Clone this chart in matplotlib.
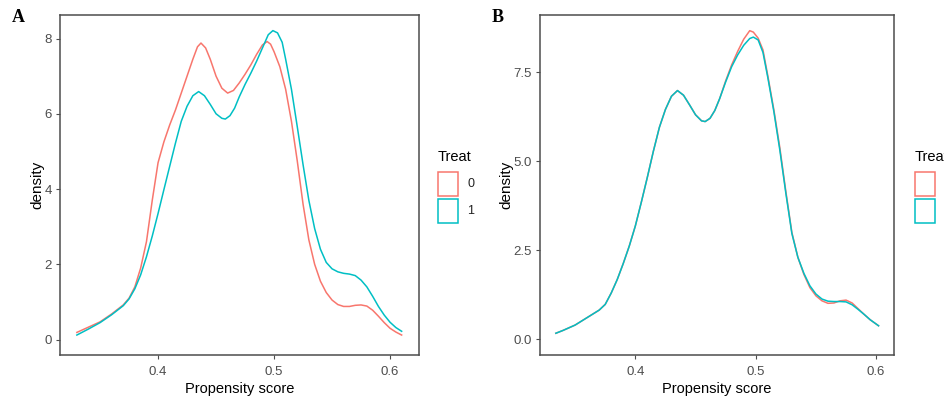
import matplotlib
matplotlib.use("Agg")
import matplotlib.pyplot as plt
from matplotlib.patches import Rectangle

plt.rcParams["font.family"] = ["Liberation Sans", "DejaVu Sans"]

RED = "#F8766D"
CYAN = "#00BFC4"

# ----------------------------
# DENSITY CURVES
# ----------------------------
a_x0 = [0.330, 0.340, 0.350, 0.360, 0.370, 0.375, 0.380, 0.385, 0.390, 0.395,
        0.400, 0.405, 0.410, 0.415, 0.420, 0.425, 0.430, 0.434, 0.437, 0.441,
        0.445, 0.450, 0.455, 0.460, 0.465, 0.470, 0.475, 0.480, 0.485, 0.490,
        0.494, 0.497, 0.500, 0.505, 0.510, 0.515, 0.520, 0.525, 0.530, 0.535,
        0.540, 0.545, 0.550, 0.555, 0.560, 0.565, 0.570, 0.575, 0.580, 0.585,
        0.590, 0.595, 0.600, 0.605, 0.610]
a_treat0 = [0.19, 0.33, 0.47, 0.68, 0.92, 1.10, 1.40, 1.90, 2.60, 3.70,
            4.70, 5.25, 5.70, 6.10, 6.55, 7.00, 7.45, 7.78, 7.88, 7.75,
            7.45, 7.00, 6.68, 6.55, 6.62, 6.82, 7.05, 7.30, 7.58, 7.83,
            7.92, 7.85, 7.65, 7.25, 6.65, 5.80, 4.75, 3.60, 2.65, 2.00,
            1.55, 1.25, 1.05, 0.93, 0.88, 0.88, 0.91, 0.92, 0.89, 0.78,
            0.62, 0.45, 0.30, 0.20, 0.12]

a_x1 = [0.330, 0.340, 0.350, 0.360, 0.370, 0.375, 0.380, 0.385, 0.390, 0.395,
        0.400, 0.405, 0.410, 0.415, 0.420, 0.425, 0.430, 0.435, 0.440, 0.445,
        0.450, 0.455, 0.458, 0.462, 0.466, 0.470, 0.475, 0.480, 0.485, 0.490,
        0.495, 0.499, 0.503, 0.507, 0.510, 0.515, 0.520, 0.525, 0.530, 0.535,
        0.540, 0.545, 0.550, 0.555, 0.560, 0.565, 0.570, 0.575, 0.580, 0.585,
        0.590, 0.595, 0.600, 0.605, 0.610]
a_treat1 = [0.12, 0.28, 0.45, 0.66, 0.90, 1.08, 1.35, 1.72, 2.20, 2.75,
            3.35, 3.98, 4.60, 5.22, 5.80, 6.20, 6.48, 6.59, 6.48, 6.25,
            6.00, 5.88, 5.86, 5.95, 6.15, 6.45, 6.78, 7.08, 7.40, 7.75,
            8.10, 8.21, 8.15, 7.90, 7.45, 6.65, 5.66, 4.65, 3.70, 2.95,
            2.40, 2.05, 1.88, 1.80, 1.76, 1.74, 1.70, 1.58, 1.40, 1.15,
            0.88, 0.65, 0.46, 0.32, 0.22]

b_x = [0.334, 0.340, 0.350, 0.360, 0.370, 0.375, 0.380, 0.385, 0.390, 0.395,
       0.400, 0.405, 0.410, 0.415, 0.420, 0.425, 0.430, 0.435, 0.440, 0.445,
       0.450, 0.455, 0.458, 0.462, 0.466, 0.470, 0.475, 0.480, 0.485, 0.490,
       0.495, 0.498, 0.502, 0.506, 0.510, 0.515, 0.520, 0.525, 0.530, 0.535,
       0.540, 0.545, 0.550, 0.555, 0.560, 0.565, 0.570, 0.575, 0.580, 0.585,
       0.590, 0.595, 0.602]
b_treat0 = [0.17, 0.25, 0.40, 0.61, 0.82, 0.98, 1.30, 1.68, 2.13, 2.62,
            3.18, 3.85, 4.55, 5.28, 5.95, 6.45, 6.82, 6.98, 6.85, 6.58,
            6.30, 6.13, 6.11, 6.20, 6.42, 6.75, 7.25, 7.70, 8.08, 8.42,
            8.66, 8.62, 8.45, 8.12, 7.40, 6.45, 5.38, 4.15, 3.00, 2.30,
            1.82, 1.45, 1.22, 1.08, 1.01, 1.02, 1.08, 1.10, 1.02, 0.86,
            0.70, 0.55, 0.38]
b_treat1 = [0.17, 0.25, 0.40, 0.61, 0.82, 0.98, 1.30, 1.68, 2.13, 2.62,
            3.18, 3.85, 4.55, 5.28, 5.95, 6.45, 6.82, 6.98, 6.85, 6.58,
            6.30, 6.13, 6.11, 6.20, 6.42, 6.75, 7.22, 7.65, 7.98, 8.25,
            8.44, 8.48, 8.40, 8.05, 7.35, 6.40, 5.31, 4.10, 2.97, 2.30,
            1.85, 1.50, 1.27, 1.13, 1.07, 1.06, 1.06, 1.05, 0.97, 0.84,
            0.70, 0.55, 0.38]

a_yticks = [0, 2, 4, 6, 8]
a_yticklabels = ["0", "2", "4", "6", "8"]
b_yticks = [0.0, 2.5, 5.0, 7.5]
b_yticklabels = ["0.0", "2.5", "5.0", "7.5"]
x_ticks = [0.4, 0.5, 0.6]
x_ticklabels = ["0.4", "0.5", "0.6"]
legend_labels = ["0", "1"]


def style_axes(ax, yticks, ylabels):
    for s in ax.spines.values():
        s.set_color("#4D4D4D")
        s.set_linewidth(1.1)
    ax.set_xticks(x_ticks)
    ax.set_xticklabels(x_ticklabels)
    ax.set_yticks(yticks)
    ax.set_yticklabels(ylabels)
    ax.tick_params(length=3, width=0.8, color="#4D4D4D", labelcolor="#4D4D4D",
                   labelsize=9.5, pad=3)
    ax.tick_params(axis="x", pad=5)
    ax.set_xlabel("Propensity score", fontsize=10.5, labelpad=3)
    ax.set_ylabel("density", fontsize=11, labelpad=0)


def draw_legend(fig, x0):
    W, H = 944.0, 399.0
    fig.text(x0 / W, 1 - 157 / H, "Treat", fontsize=10.5, va="center", ha="left")
    for i, (lab, col) in enumerate(zip(legend_labels, [RED, CYAN])):
        top = 172 + i * 27
        fig.patches.append(Rectangle((x0 / W, 1 - (top + 24) / H), 20 / W, 24 / H,
                                     transform=fig.transFigure, facecolor="white",
                                     edgecolor=col, linewidth=1.1))
        fig.text((x0 + 29) / W, 1 - (top + 12) / H, lab, fontsize=9,
                 color="#222222", va="center", ha="left")


fig = plt.figure(figsize=(9.44, 3.99), dpi=100)

axA = fig.add_axes([0.0636, 0.1103, 0.3803, 0.8521])
axA.plot(a_x0, a_treat0, color=RED, lw=1.1)
axA.plot(a_x1, a_treat1, color=CYAN, lw=1.1)
axA.set_xlim(0.3155, 0.625)
axA.set_ylim(-0.41, 8.625)
style_axes(axA, a_yticks, a_yticklabels)

axB = fig.add_axes([0.572, 0.1103, 0.375, 0.8521])
axB.plot(b_x, b_treat0, color=RED, lw=1.1)
axB.plot(b_x, b_treat1, color=CYAN, lw=1.1)
axB.set_xlim(0.3208, 0.6148)
axB.set_ylim(-0.44, 9.1)
style_axes(axB, b_yticks, b_yticklabels)

draw_legend(fig, 438)
draw_legend(fig, 915)

fig.text(12 / 944, 1 - 18 / 399, "A", fontsize=13, fontweight="bold",
         family=["Liberation Serif", "DejaVu Serif"], va="center")
fig.text(492 / 944, 1 - 18 / 399, "B", fontsize=13, fontweight="bold",
         family=["Liberation Serif", "DejaVu Serif"], va="center")

fig.savefig("out.png", dpi=100)
